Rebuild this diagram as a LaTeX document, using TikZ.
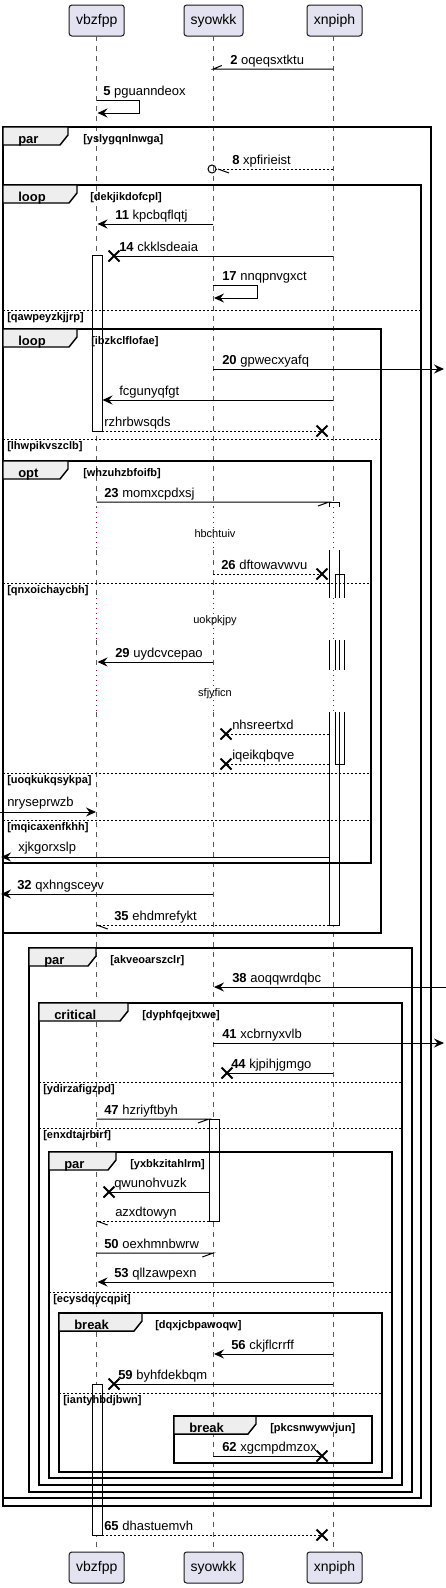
\documentclass[tikz,border=0pt]{standalone}
\usepackage{fontspec}
\setmainfont{Liberation Sans}
\usepackage{tikz}
\usetikzlibrary{arrows.meta}
\definecolor{partfill}{HTML}{E2E2F0}
\definecolor{tabfill}{HTML}{EEEEEE}
\definecolor{delayred}{HTML}{A80036}
\newcommand{\xvb}{96.7}
\newcommand{\xsy}{213.3}
\newcommand{\xxn}{333.3}
\newcommand{\destroyat}[2]{\draw[line width=1.5pt] (#1-5.5,#2-5.5) -- (#1+5.5,#2+5.5) (#1-5.5,#2+5.5) -- (#1+5.5,#2-5.5);}

\begin{document}
\begin{tikzpicture}[x=0.75pt,y=-0.75pt,>={Stealth[length=7.5pt,width=6.75pt,inset=2.6pt]},
  font=\fontsize{9.75}{11.7}\selectfont,
  life/.style={black!65,line width=0.6pt,dash pattern=on 3.75pt off 3.75pt},
  delayline/.style={delayred,line width=0.75pt,dash pattern=on 0.75pt off 3pt},
  msg/.style={line width=0.75pt},
  reply/.style={line width=0.75pt,dash pattern=on 1.5pt off 1.5pt},
  act/.style={draw=black,fill=white,line width=0.75pt},
  grp/.style={line width=1.1pt},
  tabshape/.style={draw=black,fill=tabfill,line width=1.1pt},
  elseline/.style={line width=0.75pt,dash pattern=on 1.5pt off 1.5pt},
  mlabel/.style={anchor=base west,inner sep=0pt},
  kw/.style={anchor=base west,inner sep=0pt,font=\fontsize{9.75}{11.7}\selectfont\bfseries},
  guard/.style={anchor=base west,inner sep=0pt,font=\fontsize{8.25}{10}\selectfont\bfseries},
  delaytxt/.style={anchor=base,inner sep=0pt,font=\fontsize{8.25}{10}\selectfont},
  pbox/.style={draw=black!90,fill=partfill,rounded corners=2pt,line width=0.75pt,minimum height=23.25pt,inner sep=0pt,font=\fontsize{10.5}{12}\selectfont}]
  \fill[white] (0,0) rectangle (446,1588);
  \useasboundingbox (0,0) rectangle (446,1588);
  % participants, head and foot
  \node[pbox,minimum width=41.25pt] (pa) at (96.7,20.5) {vbzfpp};
  \node[pbox,minimum width=44.25pt] (pb) at (213.5,20.5) {syowkk};
  \node[pbox,minimum width=41.25pt] (pc) at (334.5,20.5) {xnpiph};
  \node[pbox,minimum width=41.25pt] (qa) at (96.7,1567.5) {vbzfpp};
  \node[pbox,minimum width=44.25pt] (qb) at (213.5,1567.5) {syowkk};
  \node[pbox,minimum width=41.25pt] (qc) at (334.5,1567.5) {xnpiph};
  % lifelines, dotted where the delays are
  \foreach \x/\p/\q in {\xvb/pa/qa,\xsy/pb/qb,\xxn/pc/qc} {
    \draw[life] (\x,36) -- (\x,507);
    \draw[delayline] (\x,507) -- (\x,550);
    \draw[life] (\x,550) -- (\x,598);
    \draw[delayline] (\x,598) -- (\x,640);
    \draw[life] (\x,640) -- (\x,670);
    \draw[delayline] (\x,670) -- (\x,712);
    \draw[life] (\x,712) -- (\x,1552);
  }
  % activations
  \draw[act] (92,255) rectangle (102,431);
  \draw[act] (92,1384) rectangle (102,1535);
  \draw[act] (209,1119) rectangle (219,1221);
  \fill[white] (329,502) rectangle (339,507);
  \draw[msg] (329,507) -- (329,502) -- (339,502) -- (339,507);
  \fill[white] (329,550) rectangle (339,598);
  \draw[msg] (329,550) -- (329,598) (339,550) -- (339,598);
  \draw[msg] (335,598) -- (335,574) -- (344,574) -- (344,598);
  \fill[white] (329,640) rectangle (339,670);
  \draw[msg] (329,640) -- (329,670) (339,640) -- (339,670) (335,640) -- (335,670) (344,640) -- (344,670);
  \draw[act] (339,712) -- (339,925) -- (329,925) -- (329,712);
  \draw[msg] (335,712) -- (335,764) -- (344,764) -- (344,712);
  % group frames with their tabs
  \foreach \fl/\ft/\fr/\fb/\fw/\fk/\fx/\fc/\fn in {
      3/127/431/1506/68/par/83/yslygqnlnwga/f1,
      3/185/421/1498/77/loop/90/dekjikdofcpl/f2,
      3/329/381/933/77/loop/91/ibzkclflofae/f3,
      3/461/371/863/68/opt/83/whzuhzbfoifb/f4,
      29/948/412/1492/96/par/110/akveoarszclr/f5,
      39/1003/402/1485/128/critical/142/dyphfqejtxwe/f6,
      49/1152/392/1478/116/par/130/yxbkzitahlrm/f7,
      59/1313/382/1472/142/break/155/dqxjcbpawoqw/f8,
      174/1416/372/1463/256/break/270/pkcsnwywvjun/f9} {
    \draw[grp] (\fl,\ft) rectangle (\fr,\fb);
    \draw[tabshape] (\fl,\ft) -- (\fw,\ft) -- (\fw,\ft+8) -- (\fw-8,\ft+18) -- (\fl,\ft+18) -- cycle;
    \node[kw] (kw-\fn) at (\fl+15,\ft+16) {\fk};
    \node[guard] (gd-\fn) at (\fx,\ft+15) {[\fc]};
  }
  % else separators
  \foreach \el/\er/\ey/\ec/\en in {
      3/421/310/qawpeyzkjjrp/e1,
      3/381/439/lhwpikvszclb/e2,
      3/371/583/qnxoichaycbh/e3,
      3/371/773/uoqkukqsykpa/e4,
      3/371/820/mqicaxenfkhh/e5,
      39/402/1082/ydirzafigzpd/e6,
      39/402/1128/enxdtajrbirf/e7,
      49/392/1292/ecysdqycqpit/e8,
      59/382/1393/iantyhbdjbwn/e9} {
    \draw[elseline] (\el,\ey) -- (\er,\ey);
    \node[guard] (gd-\en) at (\el+4,\ey+10) {[\ec]};
  }
  % delays
  \node[delaytxt] (d1) at (215,537) {hbchtuiv};
  \node[delaytxt] (d2) at (215,623) {uokpkjpy};
  \node[delaytxt] (d3) at (215,696) {sfjyficn};
  % messages
  \draw[msg] (\xxn,69) -- (\xsy,69) -- ++(8.5,-3.5);
  \node[mlabel] (m2) at (230,64) {\textbf{2} oqeqsxtktu};
  \draw[msg,->] (\xvb,100) -- (139,100) -- (139,113) -- (97.5,113);
  \node[mlabel] (m5) at (103,95) {\textbf{5} pguanndeox};
  \draw[reply] (\xxn,169) -- (216,169);
  \draw[msg] (212,169) circle (3pt);
  \draw[msg] (218,169) -- ++(11,4);
  \node[mlabel] (m8) at (232,164) {\textbf{8} xpfirieist};
  \draw[msg,->] (\xsy,224) -- (97.5,224);
  \node[mlabel] (m11) at (115,219) {\textbf{11} kpcbqflqtj};
  \draw[msg] (\xxn,256) -- (114,256);
  \destroyat{114}{256}
  \node[mlabel] (m14) at (119,251) {\textbf{14} ckklsdeaia};
  \draw[msg,->] (\xsy,285) -- (257,285) -- (257,298) -- (214,298);
  \node[mlabel] (m17) at (222,280) {\textbf{17} nnqpnvgxct};
  \draw[msg,->] (\xsy,369) -- (444,369);
  \node[mlabel] (m20) at (222,364) {\textbf{20} gpwecxyafq};
  \draw[msg,->] (\xxn,400) -- (102.5,400);
  \node[mlabel] (m-fc) at (119,395) {fcgunyqfgt};
  \draw[reply] (102,431) -- (322,431);
  \destroyat{322}{431}
  \node[mlabel] (m-rz) at (104,426) {rzhrbwsqds};
  \draw[msg] (\xvb,502) -- (329,502) -- ++(-11,4);
  \node[mlabel] (m23) at (104,497) {\textbf{23} momxcpdxsj};
  \draw[reply] (\xsy,574) -- (322,574);
  \destroyat{322}{574}
  \node[mlabel] (m26) at (221,569) {\textbf{26} dftowavwvu};
  \draw[msg,->] (\xsy,662) -- (97.5,662);
  \node[mlabel] (m29) at (115,657) {\textbf{29} uydcvcepao};
  \draw[reply] (329,734) -- (226,734);
  \destroyat{226}{734}
  \node[mlabel] (m-nh) at (232,729) {nhsreertxd};
  \draw[reply] (329,764) -- (226,764);
  \destroyat{226}{764}
  \node[mlabel] (m-iq) at (232,759) {iqeikqbqve};
  \draw[msg,->] (0,812) -- (96,812);
  \node[mlabel] (m-nr) at (7,806) {nryseprwzb};
  \draw[msg,->] (329,857) -- (1,857);
  \node[mlabel] (m-xj) at (18,851) {xjkgorxslp};
  \draw[msg,->] (\xsy,894) -- (1,894);
  \node[mlabel] (m32) at (17,889) {\textbf{32} qxhngsceyv};
  \draw[reply] (329,925) -- (\xvb,925);
  \draw[msg] (\xvb,925) -- ++(11,4);
  \node[mlabel] (m35) at (114,920) {\textbf{35} ehdmrefykt};
  \draw[msg,->] (446,987) -- (214,987);
  \node[mlabel] (m38) at (232,982) {\textbf{38} aoqqwrdqbc};
  \draw[msg,->] (\xsy,1043) -- (444,1043);
  \node[mlabel] (m41) at (222,1038) {\textbf{41} xcbrnyxvlb};
  \draw[msg] (\xxn,1073) -- (227,1073);
  \destroyat{227}{1073}
  \node[mlabel] (m44) at (231,1068) {\textbf{44} kjpihjgmgo};
  \draw[msg] (\xvb,1119) -- (209,1119) -- ++(-11,4);
  \node[mlabel] (m47) at (104,1114) {\textbf{47} hzriyftbyh};
  \draw[msg] (209,1192) -- (109,1192);
  \destroyat{109}{1192}
  \node[mlabel] (m-qw) at (114,1187) {qwunohvuzk};
  \draw[reply] (209,1221) -- (\xvb,1221);
  \draw[msg] (\xvb,1221) -- ++(11,4);
  \node[mlabel] (m-az) at (115,1216) {azxdtowyn};
  \draw[msg] (\xvb,1253) -- (\xsy,1253) -- ++(-11,4);
  \node[mlabel] (m50) at (104,1248) {\textbf{50} oexhmnbwrw};
  \draw[msg,->] (\xxn,1282) -- (97.5,1282);
  \node[mlabel] (m53) at (114,1277) {\textbf{53} qllzawpexn};
  \draw[msg,->] (\xxn,1354) -- (214,1354);
  \node[mlabel] (m56) at (231,1349) {\textbf{56} ckjflcrrff};
  \draw[msg] (\xxn,1384) -- (114,1384);
  \destroyat{114}{1384}
  \node[mlabel] (m59) at (118,1379) {\textbf{59} byhfdekbqm};
  \draw[msg] (\xsy,1456) -- (322,1456);
  \destroyat{322}{1456}
  \node[mlabel] (m62) at (222,1451) {\textbf{62} xgcmpdmzox};
  \draw[reply] (102,1535) -- (322,1535);
  \destroyat{322}{1535}
  \node[mlabel] (m65) at (104,1530) {\textbf{65} dhastuemvh};
\end{tikzpicture}
\end{document}
